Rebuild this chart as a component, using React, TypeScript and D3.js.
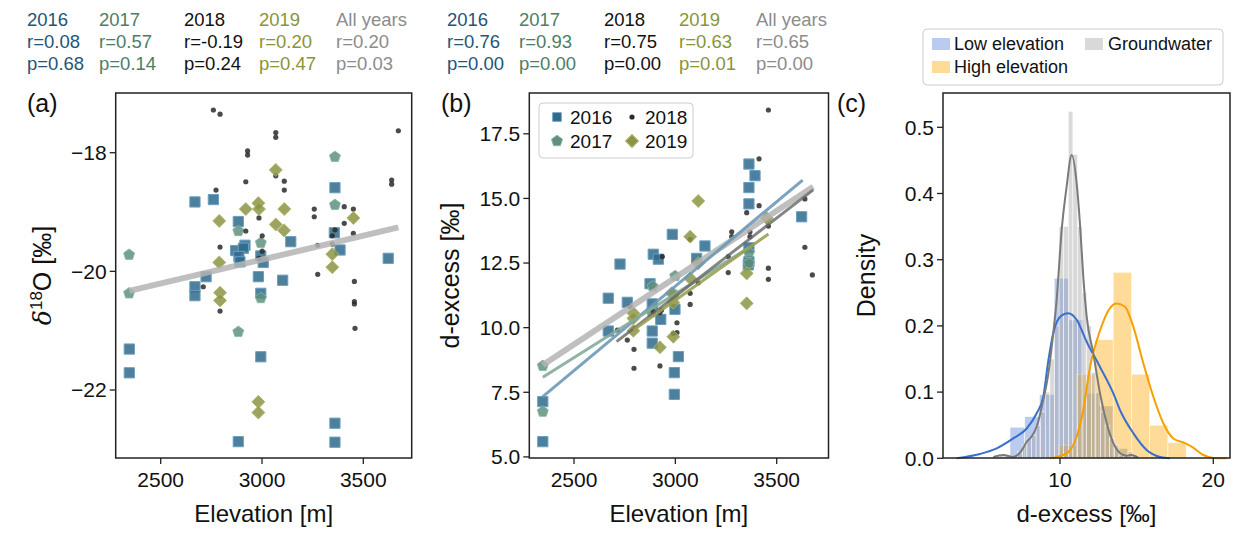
import React from "react";
import * as d3 from "d3";

// ---- data ----
const years = ["2016", "2017", "2018", "2019", "All years"];
const yearColors = ["#1f5577", "#4d7d66", "#111111", "#8a9438", "#8c8c8c"];
const statsA = { r: ["0.08", "0.57", "-0.19", "0.20", "0.20"], p: ["0.68", "0.14", "0.24", "0.47", "0.03"] };
const statsB = { r: ["0.76", "0.93", "0.75", "0.63", "0.65"], p: ["0.00", "0.00", "0.00", "0.01", "0.00"] };

// (a) elevation [m], d18O [permil]
const a2016 = [[2669,-18.83],[2760,-18.79],[2883,-19.16],[2870,-19.65],[2916,-19.56],[2908,-19.61],[2886,-19.75],[2891,-19.84],[2994,-19.74],[3006,-19.85],[2982,-20.09],[3102,-20.15],[3142,-19.5],[2724,-20.09],[2669,-20.26],[2669,-20.41],[3360,-18.59],[3357,-19.35],[3385,-19.64],[3623,-19.78],[2994,-20.37],[2345,-21.31],[2345,-21.71],[2994,-21.44],[2883,-22.87],[3360,-22.56],[3360,-22.88]];
const a2017 = [[2344,-19.72],[2344,-20.37],[2883,-19.32],[2883,-21.02],[2994,-19.52],[2994,-20.45],[3360,-18.07],[3360,-18.88]];
const a2018 = [[2760,-17.28],[2793,-17.35],[3068,-17.66],[3068,-17.74],[2929,-17.97],[2929,-18.04],[3068,-18.39],[3110,-18.48],[3110,-18.63],[2920,-18.49],[2773,-18.63],[3673,-17.63],[3640,-18.46],[3640,-18.53],[3258,-18.95],[3258,-19.08],[3406,-18.91],[3451,-18.95],[3406,-19.19],[3451,-19.36],[3347,-19.4],[3347,-19.54],[2985,-19.1],[2920,-19.32],[3001,-19.4],[3001,-19.66],[2985,-19.78],[2793,-19.59],[3275,-19.56],[3275,-20.05],[2710,-20.26],[3456,-20.17],[2793,-20.67],[3456,-20.51],[3456,-20.55],[3459,-20.96],[3360,-19.3]];
const a2019 = [[2789,-19.15],[2789,-19.85],[2920,-18.95],[2982,-18.85],[2985,-18.95],[3068,-18.29],[3068,-19.21],[3110,-18.95],[3109,-19.31],[3451,-19.1],[3347,-19.71],[3347,-19.93],[2793,-20.36],[2793,-20.49],[2982,-22.2],[2982,-22.38]];
const fitA = [2345, -20.33, 3673, -19.26];

// (b) elevation [m], d-excess [permil]
const b2016 = [[3363,16.33],[3393,15.88],[3363,15.42],[3363,14.79],[3623,14.29],[2985,13.61],[3146,13.16],[2891,12.84],[2916,12.65],[3105,12.68],[2727,12.46],[3363,13.09],[3363,12.55],[2875,11.7],[2669,11.14],[2763,10.98],[2886,10.92],[2998,10.71],[2928,10.32],[2669,9.87],[2886,9.87],[2886,9.4],[3015,8.88],[2995,8.26],[2995,7.42],[2346,7.14],[2346,5.59],[3360,12.43]];
const b2017 = [[2346,8.52],[2346,6.75],[2888,11.6],[2883,10.6],[2999,12.0],[2994,11.3],[3363,12.49],[3363,12.9]];
const b2018 = [[3459,18.42],[3413,16.53],[3639,14.98],[3413,14.72],[3352,14.45],[3459,13.93],[3278,13.71],[3278,13.52],[3368,13.71],[3368,13.52],[3639,13.11],[3261,12.75],[2936,12.75],[3073,13.42],[3459,12.3],[3459,11.87],[3676,12.04],[3261,12.13],[3113,11.74],[3073,11.33],[3073,10.9],[3008,10.19],[3008,9.81],[2990,9.78],[2932,10.68],[2924,10.58],[2891,10.62],[2776,10.81],[2714,9.91],[2763,9.52],[2796,9.16],[2796,8.43],[2924,8.52]];
const b2019 = [[3113,14.9],[3073,13.52],[3451,14.23],[3352,12.1],[3073,11.91],[3113,12.49],[2982,11.33],[2990,10.97],[2793,10.56],[2793,10.36],[2793,9.88],[2990,9.65],[2924,9.24],[3352,10.94]];
const fitB2016 = [2346, 7.33, 3628, 15.71];
const fitB2017 = [2346, 8.08, 3363, 13.1];
const fitB2018 = [2710, 9.46, 3680, 15.33];
const fitB2019 = [2793, 9.91, 3459, 13.62];
const fitBAll = [2346, 8.56, 3680, 15.45];

// (c) histograms: bin start, bin width, heights per group
const lowStart = 6.74, lowWidth = 0.96;
const lowHeights = [0.047, 0.063, 0.096, 0.272, 0.209, 0.098, 0.079, 0.015];
const highStart = 9.9, highWidth = 1.19;
const highHeights = [0.02, 0.127, 0.179, 0.281, 0.127, 0.05, 0.0235];
const gwStart = 5.74, gwWidth = 0.3;
const gwHeights = [0.005,0.005,0.005,0,0,0.01,0.02,0.03,0.035,0.05,0.07,0.1,0.15,0.2,0.35,0.35,0.524,0.459,0.35,0.25,0.2,0.13,0.1,0.07,0.05,0.03,0.02,0.005,0.005,0.01,0.005];
// density curves
const lowKde = [[3.26,0],[4.78,0.0065],[5.87,0.015],[6.95,0.03],[7.83,0.045],[8.48,0.068],[8.91,0.093],[9.24,0.148],[9.56,0.189],[10.11,0.216],[10.54,0.219],[11.09,0.209],[11.74,0.176],[12.61,0.138],[13.48,0.098],[13.91,0.073],[14.78,0.038],[15.65,0.0125],[16.52,0.002],[17.17,0]];
const gwKde = [[5.65,0.002],[6.3,0.005],[6.95,0.002],[7.5,0.012],[7.83,0.025],[8.15,0.033],[8.48,0.048],[8.91,0.088],[9.24,0.128],[9.56,0.189],[9.78,0.239],[10.11,0.345],[10.43,0.41],[10.76,0.458],[11.09,0.415],[11.3,0.355],[11.52,0.274],[11.74,0.214],[12.17,0.159],[12.61,0.098],[13.05,0.053],[13.48,0.023],[14.13,0.005],[14.4,0.004],[14.67,0.005],[15.1,0.001]];
const highKde = [[9.35,0],[10.43,0.0075],[11.09,0.033],[11.52,0.073],[11.96,0.138],[12.61,0.193],[13.26,0.227],[13.7,0.234],[14.24,0.229],[14.78,0.199],[15.43,0.144],[16.09,0.093],[16.74,0.053],[17.39,0.03],[18.04,0.024],[18.59,0.0175],[19.35,0.005],[20,0.0005],[20.87,0]];

const xTicksElev = [2500, 3000, 3500];
const yTicksA = [-18, -20, -22];
const yTicksB = [5, 7.5, 10, 12.5, 15, 17.5];
const xTicksC = [10, 20];
const yTicksC = [0, 0.1, 0.2, 0.3, 0.4, 0.5];

const FONT = "'Liberation Sans', Arial, sans-serif";
const C16 = "#2e6a8c", C17 = "#5f907c", C18 = "#2a2a2a", C19 = "#8c9443";

const pentagon = {
  draw(ctx: any, size: number) {
    const r = Math.sqrt(size / 2.38);
    for (let i = 0; i < 5; i++) {
      const a = -Math.PI / 2 + (i * 2 * Math.PI) / 5;
      if (i === 0) ctx.moveTo(r * Math.cos(a), r * Math.sin(a));
      else ctx.lineTo(r * Math.cos(a), r * Math.sin(a));
    }
    ctx.closePath();
  },
};

const sq = d3.symbol().type(d3.symbolSquare).size(105)();
const dia = d3.symbol().type(d3.symbolSquare).size(85)();
const pent = d3.symbol().type(pentagon as any).size(80)();

type Pt = number[];

function Scatter({ x, y, s16, s17, s18, s19 }: any) {
  return (
    <g>
      {s16.map((d: Pt, i: number) => (
        <path key={"s" + i} d={sq as string} transform={`translate(${x(d[0])},${y(d[1])})`} fill={C16} fillOpacity={0.85} stroke="#6b9fbf" strokeWidth={1} />
      ))}
      {s17.map((d: Pt, i: number) => (
        <path key={"p" + i} d={pent as string} transform={`translate(${x(d[0])},${y(d[1])})`} fill={C17} fillOpacity={0.85} stroke="#8db5a4" strokeWidth={0.8} />
      ))}
      {s18.map((d: Pt, i: number) => (
        <circle key={"c" + i} cx={x(d[0])} cy={y(d[1])} r={2.6} fill={C18} fillOpacity={0.85} />
      ))}
      {s19.map((d: Pt, i: number) => (
        <path key={"d" + i} d={dia as string} transform={`translate(${x(d[0])},${y(d[1])}) rotate(45)`} fill={C19} fillOpacity={0.85} stroke="#b0b66e" strokeWidth={0.8} />
      ))}
    </g>
  );
}

function Fit({ x, y, f, color, w, op }: any) {
  return <line x1={x(f[0])} y1={y(f[1])} x2={x(f[2])} y2={y(f[3])} stroke={color} strokeWidth={w} strokeOpacity={op} />;
}

function Frame({ l, r, t, b }: any) {
  return <rect x={l} y={t} width={r - l} height={b - t} fill="none" stroke="#222" strokeWidth={1.5} />;
}

function YAxis({ y, ticks, left, fmt }: any) {
  return (
    <g>
      {ticks.map((v: number) => (
        <g key={v}>
          <line x1={left - 6} x2={left} y1={y(v)} y2={y(v)} stroke="#222" strokeWidth={1.3} />
          <text x={left - 9} y={y(v)} dy="0.35em" textAnchor="end" fontSize={21}>{fmt(v)}</text>
        </g>
      ))}
    </g>
  );
}

function XAxis({ x, ticks, bottom }: any) {
  return (
    <g>
      {ticks.map((v: number) => (
        <g key={v}>
          <line x1={x(v)} x2={x(v)} y1={bottom} y2={bottom + 6} stroke="#222" strokeWidth={1.3} />
          <text x={x(v)} y={bottom + 29} textAnchor="middle" fontSize={21}>{v}</text>
        </g>
      ))}
    </g>
  );
}

function Header({ x0, stats, colX }: any) {
  return (
    <g fontSize={18.5}>
      {years.map((yr, i) => (
        <text key={yr} x={x0 + colX[i]} y={26} fill={yearColors[i]}>
          <tspan x={x0 + colX[i]}>{yr}</tspan>
          <tspan x={x0 + colX[i]} dy={22}>{"r=" + stats.r[i]}</tspan>
          <tspan x={x0 + colX[i]} dy={22}>{"p=" + stats.p[i]}</tspan>
        </text>
      ))}
    </g>
  );
}

export default function App() {
  const top = 93, bottom = 458;
  const aL = 115.7, aR = 411.7, bL = 529.3, bR = 828.5, cL = 943, cR = 1230;

  const xA = d3.scaleLinear().domain([2500, 3500]).range([160.7, 363.3]);
  const yA = d3.scaleLinear().domain([-18, -22]).range([152.7, 390]);
  const xB = d3.scaleLinear().domain([2500, 3500]).range([574, 776.7]);
  const yB = d3.scaleLinear().domain([5, 17.5]).range([456.9, 133.8]);
  const xC = d3.scaleLinear().domain([10, 20]).range([1060, 1213.3]);
  const yC = d3.scaleLinear().domain([0, 0.5]).range([458.3, 127.3]);

  const colX = [0, 72, 157, 232, 309];
  const kde = d3.line<number[]>().x((d) => xC(d[0])).y((d) => yC(d[1])).curve(d3.curveMonotoneX);

  const bars = (start: number, w: number, hs: number[], color: string, op: number, key: string) =>
    hs.map((h, i) => (
      <rect key={key + i} x={xC(start + i * w)} width={xC(start + (i + 1) * w) - xC(start + i * w)} y={yC(h)} height={yC(0) - yC(h)} fill={color} fillOpacity={op} stroke="#fff" strokeWidth={0.5} />
    ));

  const fmtA = (v: number) => (v < 0 ? "\u2212" + Math.abs(v) : String(v));
  const fmtB = (v: number) => v.toFixed(1);

  return (
    <svg width={1238} height={535} style={{ position: "absolute", left: 0, top: 0, background: "#fff" }} fontFamily={FONT} fill="#111">
      <Header x0={27} stats={statsA} colX={colX} />
      <Header x0={447} stats={statsB} colX={colX} />

      {/* panel a */}
      <text x={27} y={112} fontSize={25}>(a)</text>
      <Scatter x={xA} y={yA} s16={a2016} s17={a2017} s18={a2018} s19={a2019} />
      <Fit x={xA} y={yA} f={fitA} color="#b4b4b4" w={6} op={0.85} />
      <Frame l={aL} r={aR} t={top} b={bottom} />
      <YAxis y={yA} ticks={yTicksA} left={aL} fmt={fmtA} />
      <XAxis x={xA} ticks={xTicksElev} bottom={bottom} />
      <text transform={`translate(51,${(top + bottom) / 2}) rotate(-90)`} textAnchor="middle" fontSize={25}>
        <tspan fontStyle="italic" fontFamily="'DejaVu Serif', serif">δ</tspan>
        <tspan dy={-9} fontSize={17}>18</tspan>
        <tspan dy={9}>O [‰]</tspan>
      </text>
      <text x={(aL + aR) / 2} y={522} textAnchor="middle" fontSize={24}>Elevation [m]</text>

      {/* panel b */}
      <text x={441} y={112} fontSize={25}>(b)</text>
      <Scatter x={xB} y={yB} s16={b2016} s17={b2017} s18={b2018} s19={b2019} />
      <Fit x={xB} y={yB} f={fitBAll} color="#b4b4b4" w={6} op={0.85} />
      <Fit x={xB} y={yB} f={fitB2016} color="#6e99b6" w={3} op={0.9} />
      <Fit x={xB} y={yB} f={fitB2017} color="#84ab99" w={3} op={0.9} />
      <Fit x={xB} y={yB} f={fitB2018} color="#666" w={3} op={0.8} />
      <Fit x={xB} y={yB} f={fitB2019} color="#9aa052" w={3} op={0.9} />
      <Frame l={bL} r={bR} t={top} b={bottom} />
      <YAxis y={yB} ticks={yTicksB} left={bL} fmt={fmtB} />
      <XAxis x={xB} ticks={xTicksElev} bottom={bottom} />
      <text transform={`translate(459,${(top + bottom) / 2}) rotate(-90)`} textAnchor="middle" fontSize={25}>d-excess [‰]</text>
      <text x={(bL + bR) / 2} y={522} textAnchor="middle" fontSize={24}>Elevation [m]</text>
      <g fontSize={19}>
        <rect x={539} y={103} width={154} height={55} rx={4} fill="#fff" fillOpacity={0.85} stroke="#ccc" />
        <path d={sq as string} transform="translate(557,117) scale(0.85)" fill={C16} stroke="#6b9fbf" />
        <text x={570} y={117} dy="0.35em">2016</text>
        <path d={pent as string} transform="translate(557,141)" fill={C17} stroke="#8db5a4" />
        <text x={570} y={141} dy="0.35em">2017</text>
        <circle cx={632} cy={117} r={2.6} fill={C18} />
        <text x={645} y={117} dy="0.35em">2018</text>
        <path d={dia as string} transform="translate(632,141) rotate(45)" fill={C19} stroke="#b0b66e" />
        <text x={645} y={141} dy="0.35em">2019</text>
      </g>

      {/* panel c */}
      <text x={837} y={112} fontSize={25}>(c)</text>
      {bars(lowStart, lowWidth, lowHeights, "#4f7fd9", 0.4, "l")}
      {bars(highStart, highWidth, highHeights, "#ffa500", 0.4, "h")}
      {bars(gwStart, gwWidth, gwHeights, "#a0a0a0", 0.4, "g")}
      <path d={kde(lowKde) as string} fill="none" stroke="#3a6fd0" strokeWidth={2} />
      <path d={kde(highKde) as string} fill="none" stroke="#f5a000" strokeWidth={2} />
      <path d={kde(gwKde) as string} fill="none" stroke="#7a7a7a" strokeWidth={2} />
      <Frame l={cL} r={cR} t={top} b={bottom} />
      <YAxis y={yC} ticks={yTicksC} left={cL} fmt={(v: number) => v.toFixed(1)} />
      <XAxis x={xC} ticks={xTicksC} bottom={bottom} />
      <text transform={`translate(875,${(top + bottom) / 2}) rotate(-90)`} textAnchor="middle" fontSize={25}>Density</text>
      <text x={(cL + cR) / 2} y={522} textAnchor="middle" fontSize={24}>d-excess [‰]</text>
      <g fontSize={18}>
        <rect x={923} y={29} width={300} height={56} rx={4} fill="#fff" stroke="#ccc" />
        <rect x={932} y={38} width={18} height={12} fill="#4f7fd9" fillOpacity={0.4} />
        <text x={954} y={44} dy="0.35em">Low elevation</text>
        <rect x={1085} y={38} width={18} height={12} fill="#a0a0a0" fillOpacity={0.4} />
        <text x={1108} y={44} dy="0.35em">Groundwater</text>
        <rect x={932} y={61} width={18} height={12} fill="#ffa500" fillOpacity={0.4} />
        <text x={954} y={67} dy="0.35em">High elevation</text>
      </g>
    </svg>
  );
}
